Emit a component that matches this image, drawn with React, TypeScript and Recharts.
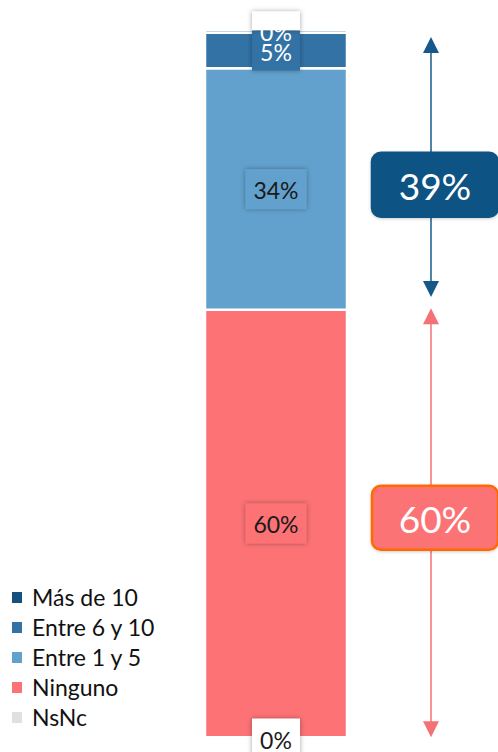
import React from 'react';
import { BarChart, Bar, XAxis, YAxis, LabelList, ReferenceArea } from 'recharts';

const categories = ['Total'];
const seriesKeys = ['nsnc', 'ninguno', 'e1a5', 'e6a10', 'mas10'];
const seriesNames = ['NsNc', 'Ninguno', 'Entre 1 y 5', 'Entre 6 y 10', 'Más de 10'];
const seriesColors = ['#E0E0E0', '#FC7275', '#62A1CD', '#3272A5', '#15507E'];
const labelTextColors = ['#1a1a1a', '#1a1a1a', '#1a1a1a', '#ffffff', '#ffffff'];
const nsncValues = [0.4];
const ningunoValues = [60.2];
const e1a5Values = [34.0];
const e6a10Values = [5.0];
const mas10Values = [0.4];

const groupLabels = ['39%', '60%'];
const groupArrowFrom = [62.4, 0.4];
const groupArrowTo = [99.0, 60.8];
const groupLabelAt = [78.2, 31.3];
const groupColors = ['#17588A', '#F47275'];
const groupBoxFill = ['#0F5383', '#FC7376'];
const groupBoxStroke = ['#0F5383', '#FF6A00'];

const data = categories.map((c, i) => ({
  cat: c,
  nsnc: nsncValues[i],
  ninguno: ningunoValues[i],
  e1a5: e1a5Values[i],
  e6a10: e6a10Values[i],
  mas10: mas10Values[i],
}));

const FONT = 'Lato, "Open Sans", sans-serif';

const makeLabel = (si: number) => (props: any) => {
  const { x, y, width, height, value } = props;
  const cx = Number(x) + Number(width) / 2;
  const cy = Number(y) + Number(height) / 2;
  const txt = `${Math.round(Number(value))}%`;
  const w = txt.length * 13 + 22;
  const h = 40;
  const top = cy - h / 2;
  const isTop = si === seriesKeys.length - 1;
  const rectH = isTop ? Math.max(0, Number(y) - top) : h;
  const fill = isTop || si === 0 ? '#ffffff' : seriesColors[si];
  return (
    <g>
      <rect x={cx - w / 2} y={top} width={w} height={rectH} fill={fill} filter="url(#lblShadow)" />
      <text x={cx} y={cy + 1} textAnchor="middle" dominantBaseline="central" fontFamily={FONT} fontSize={23} fill={labelTextColors[si]}>
        {txt}
      </text>
    </g>
  );
};

const makeGroupShape = (gi: number) => (props: any) => {
  const { x, y, width, height } = props;
  const ax = Number(x) + Number(width) + 83;
  const yTop = Number(y);
  const yBot = Number(y) + Number(height);
  const pxPerUnit = Number(height) / (groupArrowTo[gi] - groupArrowFrom[gi]);
  const boxCy = yTop + (groupArrowTo[gi] - groupLabelAt[gi]) * pxPerUnit;
  const col = groupColors[gi];
  const ah = 16;
  const aw = 8;
  const bw = 126;
  const bh = 64;
  const bx = ax - 59;
  return (
    <g>
      <line x1={ax} y1={yTop + ah - 1} x2={ax} y2={yBot - ah + 1} stroke={col} strokeWidth={1.5} />
      <polygon points={`${ax},${yTop} ${ax - aw},${yTop + ah} ${ax + aw},${yTop + ah}`} fill={col} />
      <polygon points={`${ax},${yBot} ${ax - aw},${yBot - ah} ${ax + aw},${yBot - ah}`} fill={col} />
      <rect x={bx} y={boxCy - bh / 2} width={bw} height={bh} rx={9} ry={9} fill={groupBoxFill[gi]} stroke={groupBoxStroke[gi]} strokeWidth={2.5} filter="url(#boxShadow)" />
      <text x={bx + bw / 2} y={boxCy + 1} textAnchor="middle" dominantBaseline="central" fontFamily={FONT} fontSize={37} fill="#ffffff">
        {groupLabels[gi]}
      </text>
    </g>
  );
};

const legendOrder = [4, 3, 2, 1, 0];

export default function App() {
  return (
    <div style={{ position: 'absolute', left: 0, top: 0, width: 498, height: 752, background: '#fff', overflow: 'hidden' }}>
      <BarChart
        width={498}
        height={752}
        data={data}
        margin={{ top: 30, right: 150, bottom: 12, left: 203 }}
        barCategoryGap={0}
      >
        <defs>
          <filter id="lblShadow" x="-50%" y="-50%" width="200%" height="200%">
            <feDropShadow dx="0" dy="0" stdDeviation="2.5" floodColor="#000" floodOpacity="0.35" />
          </filter>
          <filter id="boxShadow" x="-20%" y="-30%" width="140%" height="160%">
            <feDropShadow dx="0" dy="1" stdDeviation="1.5" floodColor="#000" floodOpacity="0.2" />
          </filter>
        </defs>
        <XAxis dataKey="cat" tick={false} tickLine={false} axisLine={{ stroke: '#d9d9d9', strokeWidth: 2 }} height={0} />
        <YAxis hide domain={[0, 100]} />
        {seriesKeys.map((k, si) => (
          <Bar
            key={k}
            dataKey={k}
            name={seriesNames[si]}
            stackId="a"
            fill={seriesColors[si]}
            stroke="#ffffff"
            strokeWidth={2.5}
            barSize={142}
            isAnimationActive={false}
          >
            <LabelList dataKey={k} content={makeLabel(si)} />
          </Bar>
        ))}
        {groupLabels.map((g, gi) => (
          <ReferenceArea
            key={g}
            y1={groupArrowFrom[gi]}
            y2={groupArrowTo[gi]}
            ifOverflow="visible"
            shape={makeGroupShape(gi)}
          />
        ))}
      </BarChart>
      <div style={{ position: 'absolute', left: 12, top: 582, fontFamily: FONT, fontSize: 23, color: '#111' }}>
        {legendOrder.map((si) => (
          <div key={si} style={{ display: 'flex', alignItems: 'center', height: 30 }}>
            <span style={{ display: 'inline-block', width: 10, height: 11, background: seriesColors[si], marginRight: 10 }} />
            <span style={{ lineHeight: '30px' }}>{seriesNames[si]}</span>
          </div>
        ))}
      </div>
    </div>
  );
}
